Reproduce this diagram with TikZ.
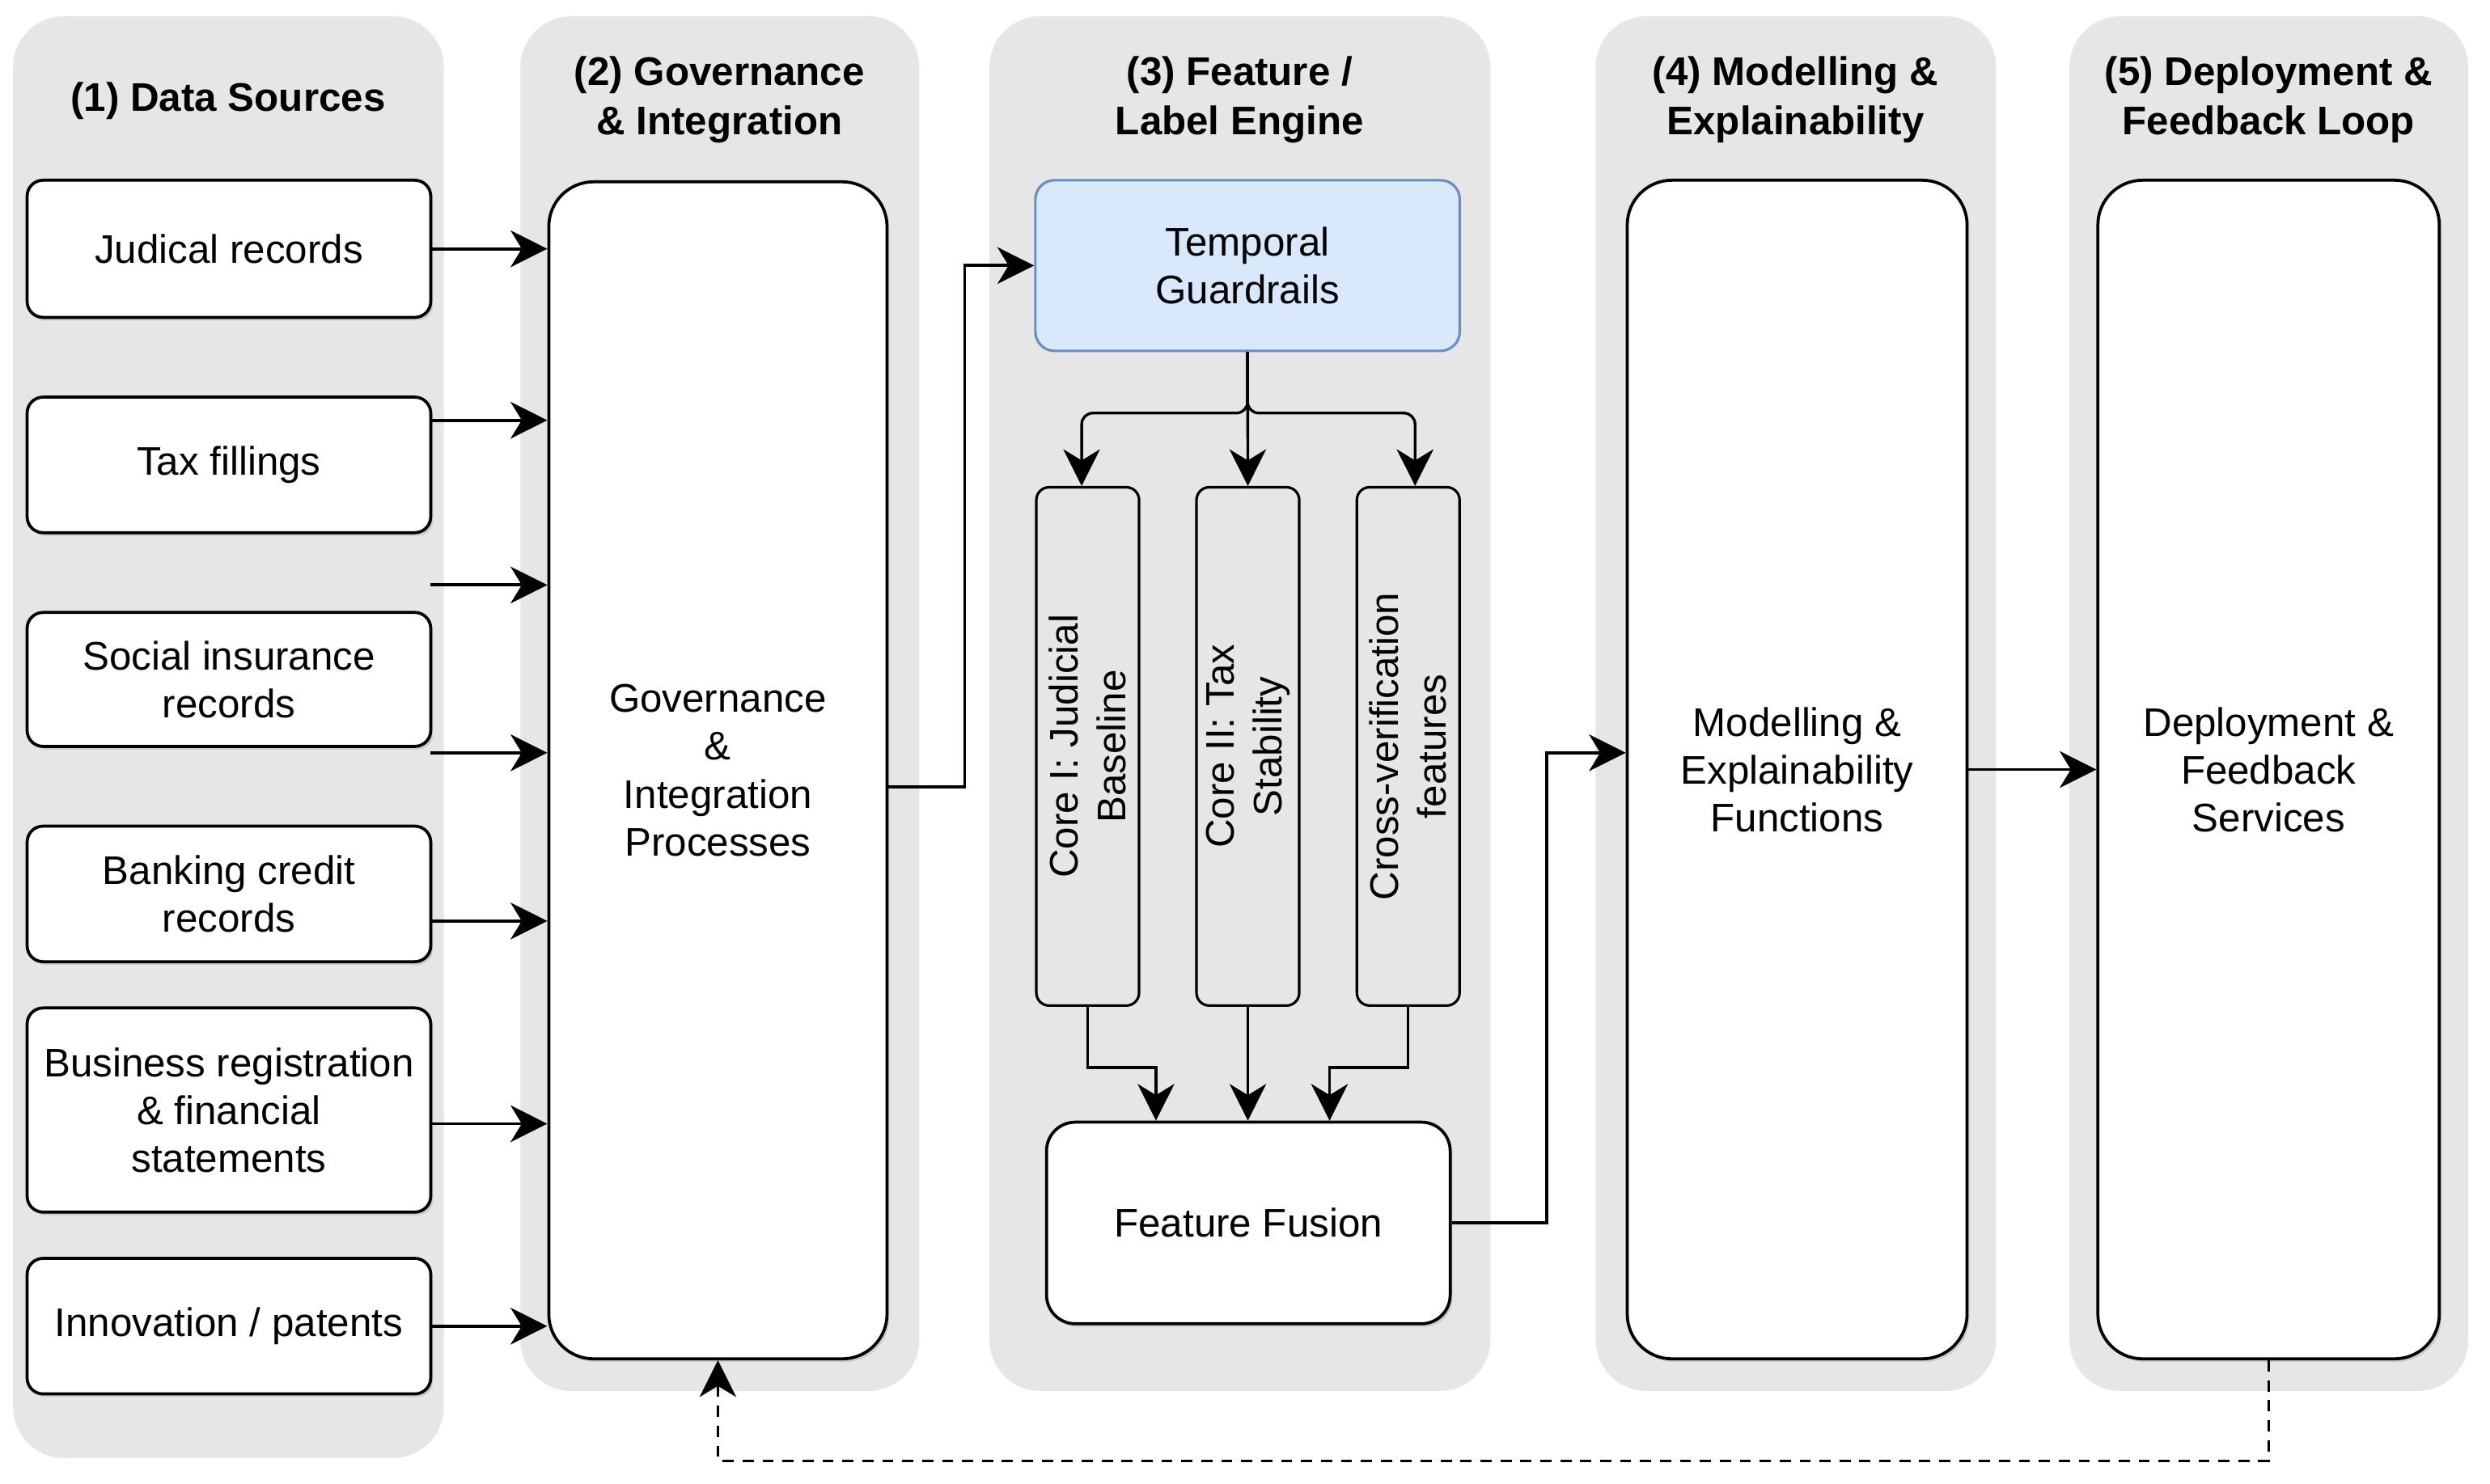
\documentclass[tikz,border=0pt]{standalone}
\usepackage{fontspec}
\setmainfont{Liberation Sans}
\usetikzlibrary{arrows.meta,shadows,calc}
\definecolor{lanegray}{HTML}{E6E6E6}
\definecolor{tgfill}{HTML}{DAE8FC}
\definecolor{tgdraw}{HTML}{6C8EBF}
\newcommand\bxfont{\fontsize{25}{30}\selectfont}
\newcommand\ttlfont{\fontsize{25}{31}\selectfont\bfseries}
\tikzset{
  lane/.style={fill=lanegray, draw=none, rounded corners=32pt, inner sep=0pt, anchor=north west},
  ttl/.style={font=\ttlfont, align=center, inner sep=0pt},
  wbox/.style={draw=black, fill=white, line width=1.9pt, inner sep=0pt, align=center, font=\bxfont,
     drop shadow={shadow xshift=1.5pt, shadow yshift=-2pt, opacity=0.25}},
  srcbox/.style={wbox, rounded corners=10pt, minimum width=253pt},
  bigbox/.style={wbox, rounded corners=28pt},
  corebox/.style={draw=black, fill=lanegray, line width=1.6pt, inner sep=0pt, align=center, font=\bxfont,
     rounded corners=8pt, rotate=90, minimum width=325pt, minimum height=64.4pt},
  tip/.style={-{Stealth[length=23pt,width=23pt,inset=7pt]}},
  arr/.style={line width=1.9pt, tip},
  farr/.style={line width=1.7pt, tip},
  fbarr/.style={line width=1.8pt, dash pattern=on 7pt off 5.5pt, tip},
}
\begin{document}
\begin{tikzpicture}[x=1pt,y=-1pt]
\useasboundingbox[fill=white] (0,0) rectangle (1560.8,930);
% lanes
\node[lane, minimum width=270pt, minimum height=904pt] (L1) at (8,10) {};
\node[lane, minimum width=250pt, minimum height=862pt] (L2) at (326,10) {};
\node[lane, minimum width=314pt, minimum height=862pt] (L3) at (620,10) {};
\node[lane, minimum width=251pt, minimum height=862pt] (L4) at (1000,10) {};
\node[lane, minimum width=250pt, minimum height=862pt] (L5) at (1297,10) {};
% titles
\node[ttl] (T1) at (143,63.5) {(1) Data Sources};
\node[ttl] (T2) at (451,62.5) {(2) Governance\\\& Integration};
\node[ttl] (T3) at (777,62.5) {(3) Feature /\\Label Engine};
\node[ttl] (T4) at (1125.5,62.5) {(4) Modelling \&\\Explainability};
\node[ttl] (T5) at (1422,62.5) {(5) Deployment \&\\Feedback Loop};
% sources
\node[srcbox, minimum height=86pt] (s1) at (143.5,156) {Judical records};
\node[srcbox, minimum height=85pt] (s2) at (143.5,291.5) {Tax fillings};
\node[srcbox, minimum height=84pt] (s3) at (143.5,426) {Social insurance\\records};
\node[srcbox, minimum height=85pt] (s4) at (143.5,560.5) {Banking credit\\records};
\node[srcbox, minimum height=128pt] (s5) at (143.5,696) {Business registration\\\& financial\\statements};
\node[srcbox, minimum height=85pt] (s6) at (143.5,831.5) {Innovation / patents};
% governance
\node[bigbox, minimum width=212pt, minimum height=738pt] (gov) at (450,483) {Governance\\\&\\Integration\\Processes};
% feature engine
\node[draw=tgdraw, fill=tgfill, line width=1.6pt, rounded corners=12pt, inner sep=0pt, align=center, font=\bxfont,
  minimum width=266pt, minimum height=107pt] (tg) at (782,166.5) {Temporal\\Guardrails};
\node[corebox] (c1) at (681.8,468) {Core I: Judicial\\Baseline};
\node[corebox] (c2) at (782.2,468) {Core II: Tax\\Stability};
\node[corebox] (c3) at (882.7,468) {Cross-verification\\features};
\node[wbox, rounded corners=18pt, minimum width=253pt, minimum height=126.4pt] (fus) at (782.5,766.8) {Feature Fusion};
% modelling, deployment
\node[bigbox, minimum width=213pt, minimum height=739pt] (mod) at (1126.5,482.5) {Modelling \&\\Explainability\\Functions};
\node[bigbox, minimum width=214pt, minimum height=739pt] (dep) at (1422,482.5) {Deployment \&\\Feedback\\Services};
% free arrow starts
\coordinate (a3) at (270,366.8);
\coordinate (a4) at (270,472);
% source arrows
\draw[arr] (s1.east) -- (s1.east -| gov.west);
\draw[arr] ([yshift=28pt]s2.east) -- ([yshift=28pt]s2.east -| gov.west);
\draw[arr] (a3) -- (a3 -| gov.west);
\draw[arr] (a4) -- (a4 -| gov.west);
\draw[arr] ([yshift=-17pt]s4.east) -- ([yshift=-17pt]s4.east -| gov.west);
\draw[arr] ([yshift=-8.6pt]s5.east) -- ([yshift=-8.6pt]s5.east -| gov.west);
\draw[arr] (s6.east) -- (s6.east -| gov.west);
% gov -> temporal
\draw[arr] ([yshift=-10.5pt]gov.east) -- ++(47.7,0) |- (tg.west);
% temporal -> cores (rotated nodes: east = top, west = bottom)
\draw[farr, rounded corners=7pt] (tg.south) -- ++(0,38.2) -| ([xshift=-3.8pt]c1.east);
\draw[farr] (tg.south) -- (c2.east);
\draw[farr, rounded corners=7pt] (tg.south) -- ++(0,38.2) -| ([xshift=4.3pt]c3.east);
% cores -> fusion
\draw[farr] (c1.west) -- ++(0,38) -| ([xshift=-57.9pt]fus.north);
\draw[farr] (c2.west) -- (c2.west |- fus.north);
\draw[farr] (c3.west) -- ++(0,38) -| ([xshift=50.9pt]fus.north);
% fusion -> modelling
\draw[arr] (fus.east) -- ++(59.6,0) |- ([yshift=10.5pt]mod.west);
% modelling -> deployment
\draw[arr] (mod.east) -- (dep.west);
% feedback loop
\draw[fbarr] (dep.south) -- ++(0,63) -| (gov.south);
\end{tikzpicture}
\end{document}
